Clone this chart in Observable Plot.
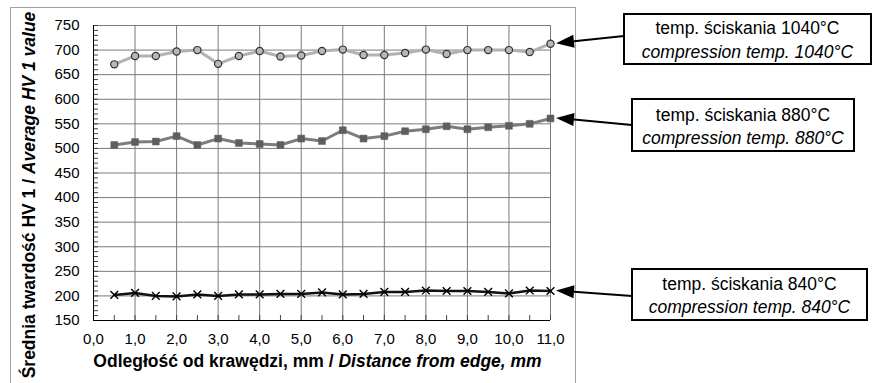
<!DOCTYPE html>
<html><head><meta charset="utf-8">
<script src="https://cdn.jsdelivr.net/npm/d3@7"></script>
<script src="https://cdn.jsdelivr.net/npm/@observablehq/plot@0.6"></script>
<style>body{margin:0;background:#fff}</style>
</head><body><div id="chart"></div>
<script>
const distances = [0.5,1,1.5,2,2.5,3,3.5,4,4.5,5,5.5,6,6.5,7,7.5,8,8.5,9,9.5,10,10.5,11];
const hv1040 = [671,688,688,697,700,672,688,698,687,689,698,701,690,690,694,701,692,700,700,700,696,713];
const hv880  = [507,513,514,525,507,520,511,509,507,520,515,537,520,525,535,539,545,539,543,546,550,561];
const hv840  = [202,206,200,199,203,200,203,203,204,204,207,203,204,208,208,211,210,210,208,205,211,210];
const yTicks = [150,200,250,300,350,400,450,500,550,600,650,700,750];
const xTicks = [0,1,2,3,4,5,6,7,8,9,10,11];
const labelsPL = ["temp. ściskania 1040°C","temp. ściskania 880°C","temp. ściskania 840°C"];
const labelsEN = ["compression temp. 1040°C","compression temp. 880°C","compression temp. 840°C"];
const yTitlePL = "Średnia twardość HV 1 / ";
const yTitleEN = "Average HV 1 value";
const xTitlePL = "Odległość od krawędzi, mm / ";
const xTitleEN = "Distance from edge, mm";

const rows = vals => distances.map((x, i) => ({x, v: vals[i]}));
const d1040 = rows(hv1040), d880 = rows(hv880), d840 = rows(hv840);
const yMinor = d3.range(150, 751, 10);
const xMinor = d3.range(0, 11.01, 0.5);
const font = "'Liberation Sans', Arial, sans-serif";

const plot = Plot.plot({
  width: 872, height: 383,
  marginLeft: 93, marginRight: 322, marginTop: 25, marginBottom: 63,
  style: {fontFamily: font, fontSize: "15px", background: "white", overflow: "visible", color: "#000"},
  x: {domain: [0, 11]},
  y: {domain: [150, 750]},
  marks: [
    Plot.gridY(yTicks, {stroke: "#7a7a7a", strokeOpacity: 1}),
    Plot.gridX(xTicks, {stroke: "#7a7a7a", strokeOpacity: 1}),
    Plot.axisY(yMinor, {tickSize: -5, tickFormat: () => "", label: null, stroke: "#444"}),
    Plot.axisY(yTicks, {tickSize: 0, tickPadding: 14, label: null, fill: "#000"}),
    Plot.axisX(xMinor, {tickSize: -5, tickFormat: () => "", label: null, stroke: "#444"}),
    Plot.axisX(xTicks, {tickSize: 0, tickPadding: 13, label: null, fill: "#000", tickFormat: d => d.toFixed(1).replace(".", ",")}),
    Plot.ruleX([0], {stroke: "#000"}),
    Plot.ruleY([150], {stroke: "#000"}),
    Plot.line(d1040, {x: "x", y: "v", stroke: "#b2b2b2", strokeWidth: 3}),
    Plot.dot(d1040, {x: "x", y: "v", r: 3.6, fill: "#b8b8b8", stroke: "#333", strokeWidth: 1.2}),
    Plot.line(d880, {x: "x", y: "v", stroke: "#7c7c7c", strokeWidth: 3}),
    Plot.dot(d880, {x: "x", y: "v", symbol: "square", r: 3.9, fill: "#5e5e5e", stroke: "#5e5e5e", strokeWidth: 0.5}),
    Plot.line(d840, {x: "x", y: "v", stroke: "#111", strokeWidth: 2.5}),
    Plot.dot(d840, {x: "x", y: "v", symbol: "times", r: 3.6, stroke: "#000", strokeWidth: 1.4})
  ]
});

const svg = d3.select(plot);
const xs = plot.scale("x"), ys = plot.scale("y");

// outer chart frame
svg.insert("rect", ":first-child").attr("x", 10.5).attr("y", 7.5).attr("width", 565).attr("height", 400)
  .attr("fill", "none").attr("stroke", "#a0a0a0").attr("stroke-width", 1);

// axis titles
const yt = svg.append("text").attr("font-family", font).attr("font-size", 17.5).attr("font-weight", "bold")
  .attr("text-anchor", "middle").attr("transform", "translate(35,195) rotate(-90)");
yt.append("tspan").text(yTitlePL);
yt.append("tspan").attr("font-style", "italic").text(yTitleEN);
const xt = svg.append("text").attr("font-family", font).attr("font-size", 17.5).attr("font-weight", "bold")
  .attr("text-anchor", "middle").attr("x", 317.5).attr("y", 367);
xt.append("tspan").text(xTitlePL);
xt.append("tspan").attr("font-style", "italic").text(xTitleEN);

// annotation boxes with arrows
const lastVals = [hv1040[hv1040.length-1], hv880[hv880.length-1], hv840[hv840.length-1]];
const boxes = [
  {x0: 624, y0: 14, x1: 871, y1: 64, tailY: 36, b1: 34, b2: 58},
  {x0: 632, y0: 99, x1: 854, y1: 151, tailY: 125, b1: 121, b2: 144},
  {x0: 632, y0: 269, x1: 867, y1: 320, tailY: 296, b1: 290, b2: 313}
];
boxes.forEach((b, i) => {
  svg.append("rect").attr("x", b.x0).attr("y", b.y0).attr("width", b.x1 - b.x0).attr("height", b.y1 - b.y0)
    .attr("fill", "white").attr("stroke", "#000").attr("stroke-width", 2);
  const cx = (b.x0 + b.x1) / 2;
  svg.append("text").attr("font-family", font).attr("font-size", 17.5).attr("text-anchor", "middle")
    .attr("x", cx).attr("y", b.b1).text(labelsPL[i]);
  svg.append("text").attr("font-family", font).attr("font-size", 17.5).attr("font-style", "italic").attr("text-anchor", "middle")
    .attr("x", cx).attr("y", b.b2).text(labelsEN[i]);
  const tx = xs.apply(distances[distances.length-1]) + 6, ty = ys.apply(lastVals[i]);
  const ax = b.x0, ay = b.tailY;
  const len = Math.hypot(ax - tx, ay - ty), ux = (ax - tx) / len, uy = (ay - ty) / len;
  const L = 18, W = 6.5;
  const bx = tx + ux * L, by = ty + uy * L;
  svg.append("line").attr("x1", bx).attr("y1", by).attr("x2", ax).attr("y2", ay)
    .attr("stroke", "#000").attr("stroke-width", 2);
  svg.append("path").attr("d", `M${tx},${ty}L${bx - uy * W},${by + ux * W}L${bx + uy * W},${by - ux * W}Z`).attr("fill", "#000");
});

document.getElementById("chart").append(plot);
</script>
</body></html>
